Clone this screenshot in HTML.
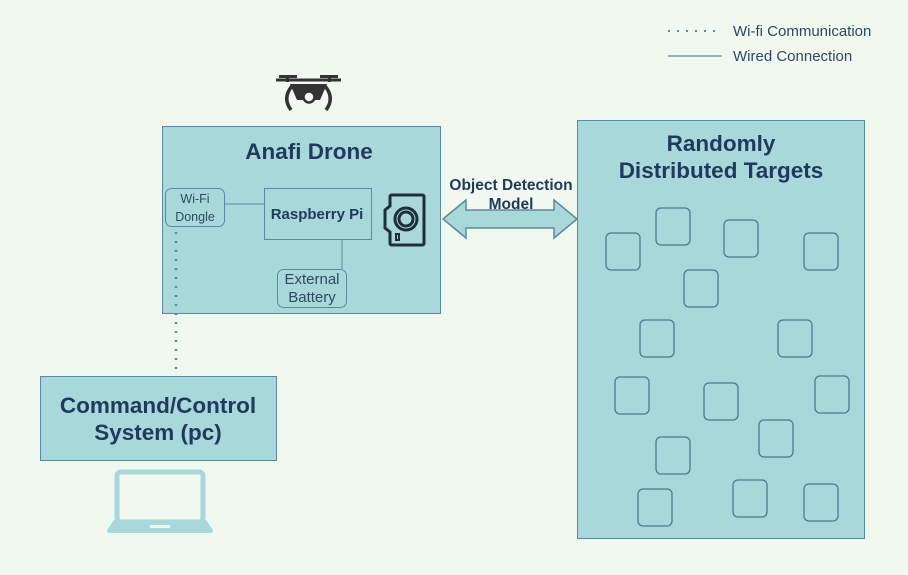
<!DOCTYPE html>
<html><head><style>
body{margin:0;background:#f0f8ef;}
svg{display:block;font-family:"Liberation Sans",sans-serif;}
</style></head><body>
<svg width="908" height="575" viewBox="0 0 908 575">
<rect width="908" height="575" fill="#f0f8ef"/>
<!-- legend -->
<line x1="668" y1="31" x2="722" y2="31" stroke="#5a8aa0" stroke-width="2" stroke-dasharray="2,7"/>
<text x="733" y="36" font-size="15" fill="#2d4a5e">Wi-fi Communication</text>
<line x1="668" y1="56" x2="722" y2="56" stroke="#5a8aa0" stroke-width="1.2"/>
<text x="733" y="61" font-size="15" fill="#2d4a5e">Wired Connection</text>
<!-- drone icon -->
<g fill="#333" stroke="#333">
<line x1="276" y1="80" x2="341" y2="80" stroke-width="3"/>
<rect x="279" y="75" width="18" height="3" stroke="none"/><rect x="320" y="75" width="18" height="3" stroke="none"/>
<rect x="286" y="77" width="3" height="5" stroke="none"/><rect x="328" y="77" width="3" height="5" stroke="none"/>
<path d="M290 84 L327 84 L320 100 L297 100 Z" stroke="none"/>
<path d="M292 86 Q282 98 291 110" fill="none" stroke-width="3.5"/>
<path d="M325 86 Q335 98 326 110" fill="none" stroke-width="3.5"/>
<circle cx="309" cy="97" r="5.5" fill="#f0f8ef" stroke="#333" stroke-width="2.5"/>
</g>
<!-- Anafi box -->
<rect x="162.5" y="126.5" width="278" height="187" fill="#a8d8da" stroke="#5a8aa0"/>
<text x="309" y="159" font-size="22.5" font-weight="bold" fill="#1f3a5a" text-anchor="middle">Anafi Drone</text>
<line x1="224" y1="204" x2="264" y2="204" stroke="#5a8aa0"/>
<line x1="342" y1="239" x2="342" y2="269" stroke="#5a8aa0"/>
<rect x="165.5" y="188.5" width="59" height="38" rx="6" fill="#a8d8da" stroke="#5a8aa0"/>
<text x="195" y="203" font-size="12.5" fill="#2d4a5e" text-anchor="middle">Wi-Fi</text>
<text x="195" y="221" font-size="12.5" fill="#2d4a5e" text-anchor="middle">Dongle</text>
<rect x="264.5" y="188.5" width="107" height="51" fill="#a8d8da" stroke="#5a8aa0"/>
<text x="317" y="219" font-size="15" font-weight="bold" fill="#1f3a5a" text-anchor="middle">Raspberry Pi</text>
<rect x="277.5" y="269.5" width="69" height="38" rx="6" fill="#a8d8da" stroke="#5a8aa0"/>
<text x="312" y="284" font-size="15" fill="#2d4a5e" text-anchor="middle">External</text>
<text x="312" y="302" font-size="15" fill="#2d4a5e" text-anchor="middle">Battery</text>
<!-- camera -->
<g fill="none" stroke="#1f2f3a" stroke-width="3">
<path d="M392 195 L422 195 Q424 195 424 197 L424 243 Q424 245 422 245 L392 245 Q390 245 390 243 L390 232 L385 228 L385 210 L390 206 L390 197 Q390 195 392 195 Z"/>
<circle cx="406" cy="219" r="11"/>
<circle cx="406" cy="219" r="7"/>
<rect x="396" y="234" width="3" height="6" stroke-width="2"/>
</g>
<!-- dotted wifi line -->
<line x1="176" y1="232" x2="176" y2="376" stroke="#5a8aa0" stroke-width="2.5" stroke-dasharray="2,7"/>
<!-- arrow -->
<path d="M443 219 L466 200 L466 210 L554 210 L554 200 L577 219 L554 238 L554 228 L466 228 L466 238 Z" fill="#a8d8da" stroke="#5a8aa0" stroke-width="1.5"/>
<text x="511" y="190" font-size="15.5" font-weight="bold" fill="#1f3a5a" text-anchor="middle">Object Detection</text>
<text x="511" y="209" font-size="15.5" font-weight="bold" fill="#1f3a5a" text-anchor="middle">Model</text>
<!-- targets box -->
<rect x="577.5" y="120.5" width="287" height="418" fill="#a8d8da" stroke="#5a8aa0"/>
<text x="721" y="151" font-size="22.5" font-weight="bold" fill="#1f3a5a" text-anchor="middle">Randomly</text>
<text x="721" y="178" font-size="22.5" font-weight="bold" fill="#1f3a5a" text-anchor="middle">Distributed Targets</text>
<g fill="#a8d8da" stroke="#4a7a92" stroke-width="1.3">
<rect x="606" y="233" width="34" height="37" rx="5"/>
<rect x="656" y="208" width="34" height="37" rx="5"/>
<rect x="724" y="220" width="34" height="37" rx="5"/>
<rect x="804" y="233" width="34" height="37" rx="5"/>
<rect x="684" y="270" width="34" height="37" rx="5"/>
<rect x="640" y="320" width="34" height="37" rx="5"/>
<rect x="778" y="320" width="34" height="37" rx="5"/>
<rect x="615" y="377" width="34" height="37" rx="5"/>
<rect x="704" y="383" width="34" height="37" rx="5"/>
<rect x="815" y="376" width="34" height="37" rx="5"/>
<rect x="656" y="437" width="34" height="37" rx="5"/>
<rect x="759" y="420" width="34" height="37" rx="5"/>
<rect x="638" y="489" width="34" height="37" rx="5"/>
<rect x="733" y="480" width="34" height="37" rx="5"/>
<rect x="804" y="484" width="34" height="37" rx="5"/>
</g>
<!-- command box -->
<rect x="40.5" y="376.5" width="236" height="84" fill="#a8d8da" stroke="#5a8aa0"/>
<text x="158" y="413" font-size="22.5" font-weight="bold" fill="#1f3a5a" text-anchor="middle">Command/Control</text>
<text x="158" y="440" font-size="22.5" font-weight="bold" fill="#1f3a5a" text-anchor="middle">System (pc)</text>
<!-- laptop -->
<rect x="117" y="472" width="86" height="50" rx="4" fill="none" stroke="#a8d8da" stroke-width="5"/>
<path d="M114 520 L206 520 L213 530 Q213 533 210 533 L110 533 Q107 533 107 530 Z" fill="#a8d8da"/>
<rect x="150" y="525" width="20" height="3" fill="#f0f8ef"/>
</svg>
</body></html>
